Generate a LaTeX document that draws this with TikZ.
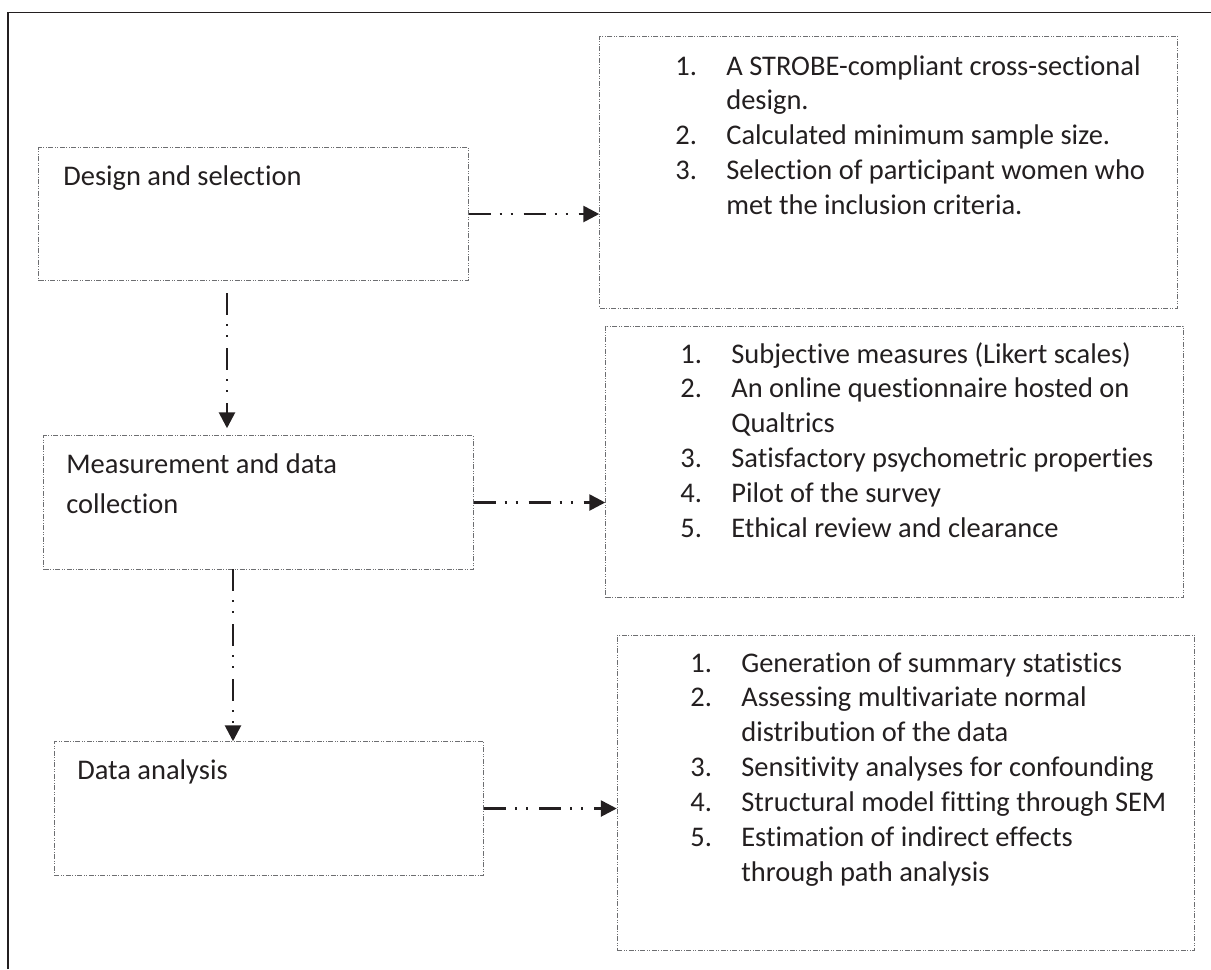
\documentclass[tikz,border=0pt]{standalone}
\usepackage{fontspec}
\setmainfont[Ligatures=NoCommon]{Carlito}
\usetikzlibrary{arrows.meta}

\definecolor{ink}{HTML}{231F20}
\definecolor{boxgray}{HTML}{6D6E71}
\newcommand{\listfont}{\fontsize{16.2pt}{19.9pt}\selectfont}
\newcommand{\stepfont}{\fontsize{16.2pt}{22.8pt}\selectfont}

\begin{document}
\begin{tikzpicture}[x=0.2mm, y=-0.2mm,
  boxline/.style={draw=boxgray, line width=0.2mm, inner sep=0,
    dash pattern=on 1mm off 0.3mm on 0.2mm off 0.3mm on 0.2mm off 0.3mm},
  stepbox/.style={boxline, minimum width=85.8mm, minimum height=26.7mm},
  itembox/.style={boxline, minimum width=115.5mm},
  steptext/.style={anchor=base west, inner sep=0, text=ink, font=\stepfont},
  listtext/.style={anchor=base west, inner sep=0, text=ink, font=\listfont},
  flow/.style={draw=ink, line width=0.55mm,
    dash pattern=on 4.4mm off 1.8mm on 0.4mm off 1.8mm on 0.4mm off 2.2mm,
    -{Triangle[length=3.2mm,width=3.2mm]}}]
\useasboundingbox (0,0) rectangle (1211,969);
\draw[ink, line width=0.3mm] (8,969) -- (8,12.7) -- (1211,12.7);

% left column
\node[stepbox] (b1) at (253.5,214) {};
\node[stepbox] (b3) at (258.5,502.5) {};
\node[stepbox] (b5) at (269,808.5) {};
\node[steptext] (t1) at (63,185) {Design and selection};
\node[steptext] (t3) at (66,473) {\begin{tabular}[t]{@{}l@{}}Measurement and data\\ collection\end{tabular}};
\node[steptext] (t5) at (77,779) {Data analysis};

% right column
\node[itembox, minimum height=54.4mm] (b2) at (888.5,172) {};
\node[itembox, minimum height=54.2mm] (b4) at (894.5,461.5) {};
\node[itembox, minimum height=63mm]   (b6) at (906,792.5) {};
\node[listtext] (t2) at (675,75) {\begin{tabular}[t]{@{}p{10.2mm}@{}l@{}}
1. & A STROBE-compliant cross-sectional\\
   & design.\\
2. & Calculated minimum sample size.\\
3. & Selection of participant women who\\
   & met the inclusion criteria.
\end{tabular}};
\node[listtext] (t4) at (680,363) {\begin{tabular}[t]{@{}p{10.2mm}@{}l@{}}
1. & Subjective measures (Likert scales)\\
2. & An online questionnaire hosted on\\
   & Qualtrics\\
3. & Satisfactory psychometric properties\\
4. & Pilot of the survey\\
5. & Ethical review and clearance
\end{tabular}};
\node[listtext] (t6) at (690,672) {\begin{tabular}[t]{@{}p{10.2mm}@{}l@{}}
1. & Generation of summary statistics\\
2. & Assessing multivariate normal\\
   & distribution of the data\\
3. & Sensitivity analyses for confounding\\
4. & Structural model fitting through SEM\\
5. & Estimation of indirect effects\\
   & through path analysis
\end{tabular}};

% connectors
\coordinate (v1) at (227,293);
\coordinate (v2) at (233,569);
\draw[flow] (b1.east) -- (b1.east -| b2.west);
\draw[flow] (b3.east) -- (b3.east -| b4.west);
\draw[flow] (b5.east) -- (b5.east -| b6.west);
\draw[flow] (v1) -- ([yshift=1.4mm]v1 |- b3.north);
\draw[flow] (v2) -- (v2 |- b5.north);
\end{tikzpicture}
\end{document}
